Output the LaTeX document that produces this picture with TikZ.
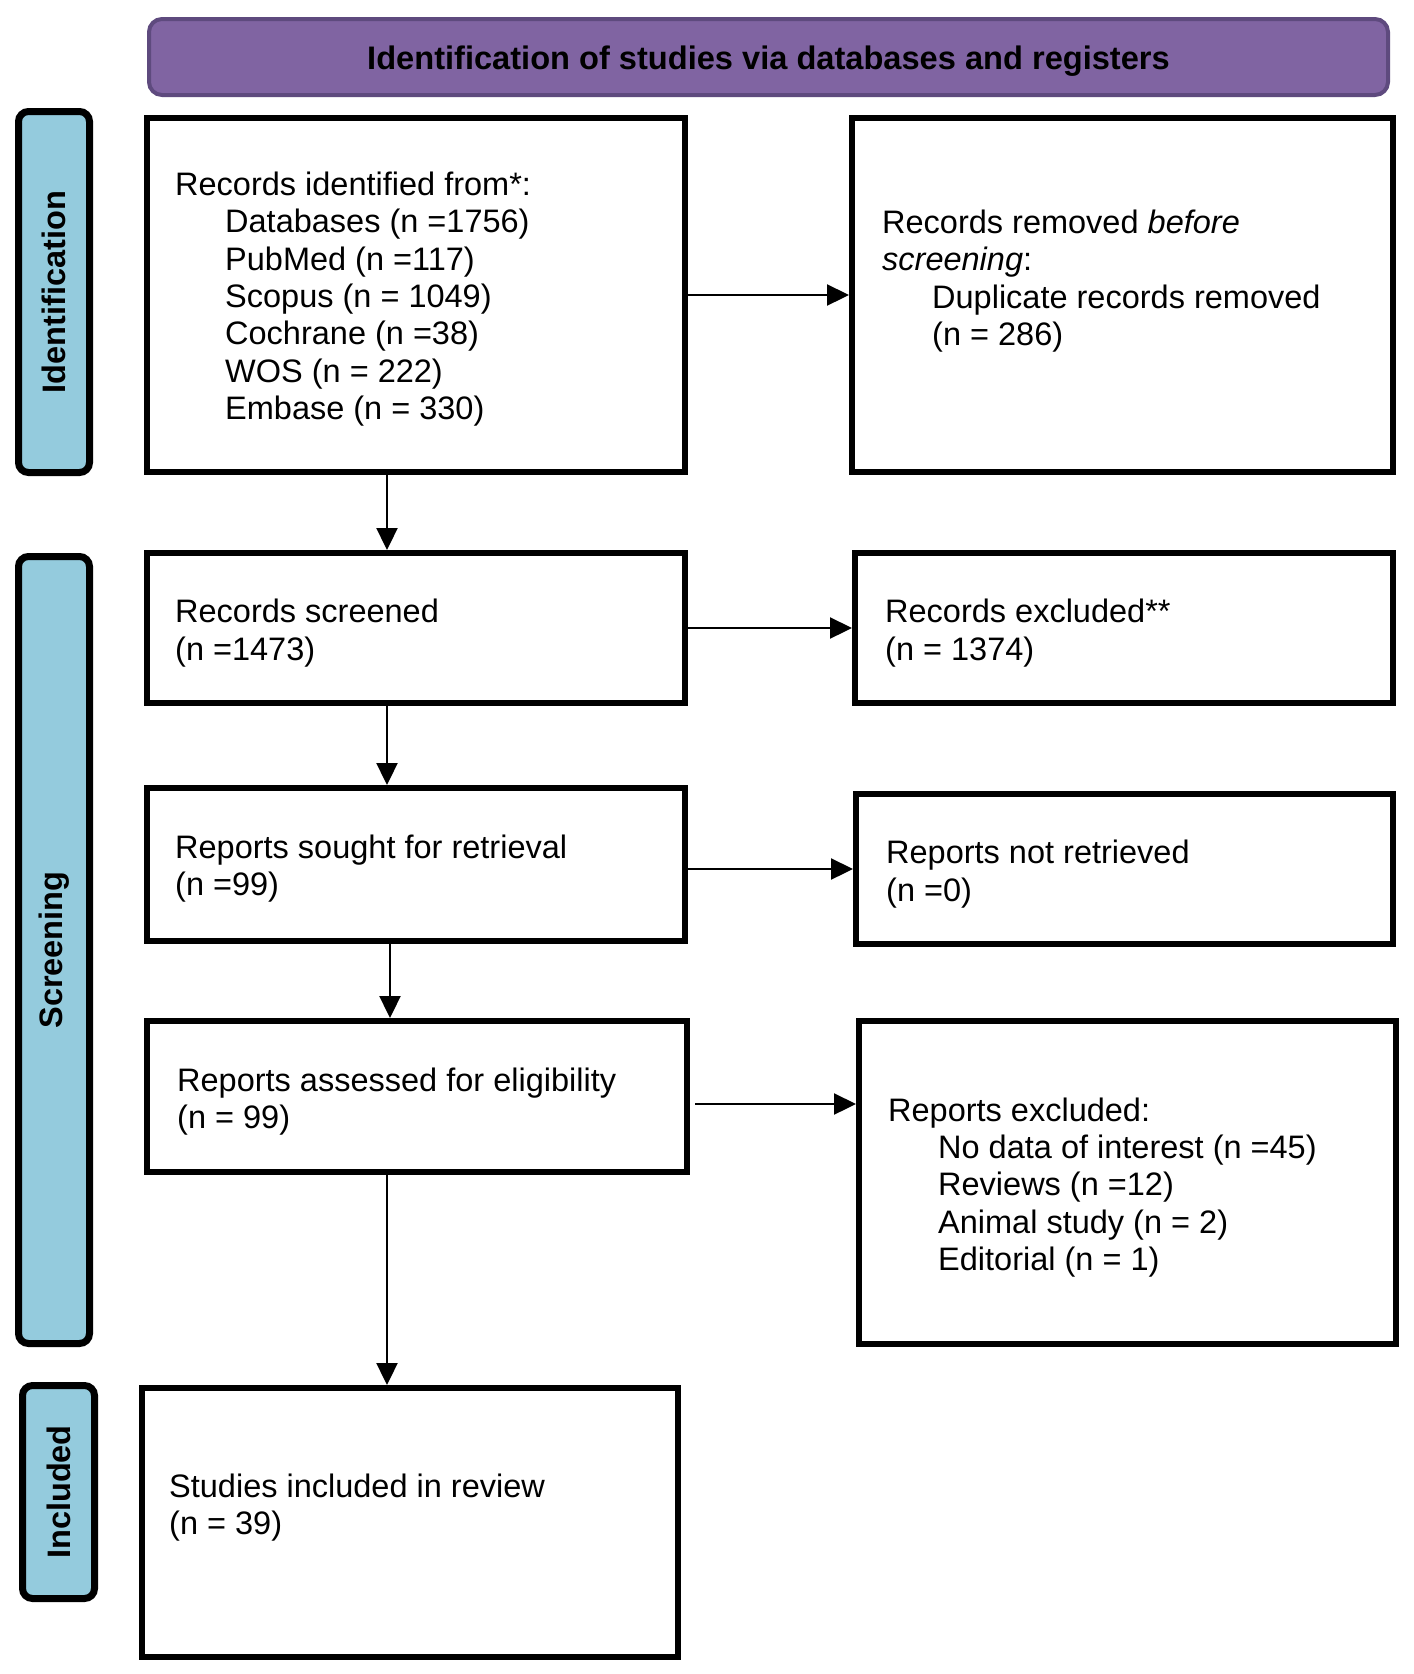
\documentclass[tikz,border=0pt]{standalone}
\usepackage{fontspec}
\setmainfont{Liberation Sans}
\usetikzlibrary{arrows.meta,calc}
\definecolor{hdrfill}{RGB}{128,100,162}
\definecolor{hdrline}{RGB}{94,74,126}
\definecolor{sidefill}{RGB}{148,203,221}
\begin{document}
\begin{tikzpicture}[x=1pt,y=-1pt,
  box/.style={draw=black, line width=6pt, fill=white, rectangle, inner sep=0pt, anchor=north west},
  sidebox/.style={draw=black, line width=7pt, fill=sidefill, rounded corners=10pt, inner sep=0pt, anchor=north west},
  hdrbox/.style={draw=hdrline, line width=4pt, fill=hdrfill, rounded corners=13pt, inner sep=0pt, anchor=north west},
  hdrtxt/.style={inner sep=0pt, font=\bfseries\fontsize{32.6}{38}\selectfont, text=black},
  txt/.style={anchor=west, align=left, inner sep=0pt, font=\fontsize{32.5}{37.4}\selectfont},
  sidetxt/.style={rotate=90, inner sep=0pt, font=\bfseries\fontsize{32.5}{38}\selectfont},
  arr/.style={line width=2.3pt, -{Triangle[length=22pt,width=21pt]}},
]
\useasboundingbox (0,0) rectangle (1414,1674);
\fill[white] (0,0) rectangle (1414,1674);

% header
\node[hdrbox, minimum width=1239pt, minimum height=76pt] (hdr) at (147,17) {};
\node[hdrtxt] (hdrt) at ($(hdr.center)+(0,4)$) {Identification of studies via databases and registers};

% side bars
\node[sidebox, minimum width=71pt, minimum height=361pt] (sid1) at (15,108) {};
\node[sidebox, minimum width=71pt, minimum height=787pt] (sid2) at (15,553) {};
\node[sidebox, minimum width=72pt, minimum height=213pt] (sid3) at (19,1382) {};
\node[sidetxt] (sid1t) at (sid1.center) {Identification};
\node[sidetxt] (sid2t) at (sid2.center) {Screening};
\node[sidetxt] (sid3t) at (sid3.center) {Included};

% boxes
\node[box, minimum width=538pt, minimum height=354pt] (b1)  at (144,115) {};
\node[box, minimum width=541pt, minimum height=354pt] (rem) at (849,115) {};
\node[box, minimum width=538pt, minimum height=150pt] (scr) at (144,550) {};
\node[box, minimum width=538pt, minimum height=150pt] (exc) at (852,550) {};
\node[box, minimum width=538pt, minimum height=153pt] (sou) at (144,785) {};
\node[box, minimum width=537pt, minimum height=150pt] (nr)  at (853,791) {};
\node[box, minimum width=540pt, minimum height=151pt] (ass) at (144,1018) {};
\node[box, minimum width=537pt, minimum height=323pt] (rex) at (856,1018) {};
\node[box, minimum width=536pt, minimum height=269pt] (stu) at (139,1385) {};

% texts
\node[txt] (b1t) at ($(b1.west)+(31,4)$) {Records identified from*:\\
  \hspace*{50pt}Databases (n =1756)\\
  \hspace*{50pt}PubMed (n =117)\\
  \hspace*{50pt}Scopus (n = 1049)\\
  \hspace*{50pt}Cochrane (n =38)\\
  \hspace*{50pt}WOS (n = 222)\\
  \hspace*{50pt}Embase (n = 330)};
\node[txt] (remt) at ($(rem.west)+(33,-14)$) {Records removed \textit{before}\\
  \textit{screening}:\\
  \hspace*{50pt}Duplicate records removed\\
  \hspace*{50pt}(n = 286)};
\node[txt] (scrt) at ($(scr.west)+(31,5)$) {Records screened\\(n =1473)};
\node[txt] (exct) at ($(exc.west)+(33,5)$) {Records excluded**\\(n = 1374)};
\node[txt] (sout) at ($(sou.west)+(31,4)$) {Reports sought for retrieval\\(n =99)};
\node[txt] (nrt)  at ($(nr.west)+(33,5)$) {Reports not retrieved\\(n =0)};
\node[txt] (asst) at ($(ass.west)+(33,5)$) {Reports assessed for eligibility\\(n = 99)};
\node[txt] (rext) at ($(rex.west)+(32,5)$) {Reports excluded:\\
  \hspace*{50pt}No data of interest (n =45)\\
  \hspace*{50pt}Reviews (n =12)\\
  \hspace*{50pt}Animal study (n = 2)\\
  \hspace*{50pt}Editorial (n = 1)};
\node[txt] (stut) at ($(stu.west)+(30,-15)$) {Studies included in review\\(n = 39)};

% connectors
\coordinate (ax) at (387,0);
\coordinate (ax2) at (390,0);
\coordinate (a4) at (693,1104);
\draw[arr] (b1.south -| ax) -- (scr.north -| ax);
\draw[arr] (scr.south -| ax) -- (sou.north -| ax);
\draw[arr] (sou.south -| ax2) -- (ass.north -| ax2);
\draw[arr] (ass.south -| ax) -- (stu.north -| ax);
\draw[arr] (b1.east) -- (rem.west);
\draw[arr] (scr.east) -- (exc.west);
\draw[arr] (sou.east |- nr.west) -- (nr.west);
\draw[arr, shorten <=5pt] (ass.east |- a4) -- (rex.west |- a4);
\end{tikzpicture}
\end{document}
